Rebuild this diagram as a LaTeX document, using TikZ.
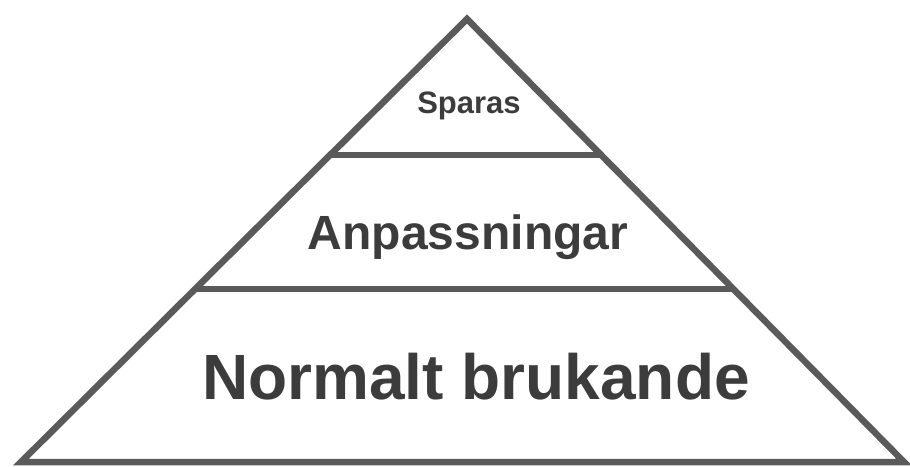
\documentclass[tikz,border=0pt]{standalone}
\usepackage{fontspec}
\setmainfont{Liberation Sans}
\usetikzlibrary{calc}
\definecolor{edgegray}{HTML}{5A5A5A}
\definecolor{textgray}{HTML}{3C3C3C}
\tikzset{
  edge/.style={draw=edgegray, line width=6.5pt, line join=miter},
  tier/.style={draw=edgegray, line width=6pt},
  lbl/.style={text=textgray, font=\bfseries, anchor=base, inner sep=0pt}
}
\begin{document}
\begin{tikzpicture}[x=1pt,y=-1pt]
\useasboundingbox (0,0) rectangle (910,466);
\coordinate (A) at (467,19);
\coordinate (L) at (21,462);
\coordinate (R) at (904,462);
\draw[edge] (A) -- (L) -- (R) -- cycle;
\coordinate (t1l) at ($(A)!0.307!(L)$);
\coordinate (t1r) at ($(A)!0.307!(R)$);
\coordinate (t2l) at ($(A)!0.61!(L)$);
\coordinate (t2r) at ($(A)!0.61!(R)$);
\draw[tier] (t1l) -- (t1r);
\draw[tier] (t2l) -- (t2r);
\node[lbl, font=\bfseries\fontsize{31}{31}\selectfont] (top) at (469,113) {Sparas};
\node[lbl, font=\bfseries\fontsize{48}{48}\selectfont] (mid) at (468,249) {Anpassningar};
\node[lbl, font=\bfseries\fontsize{64}{64}\selectfont] (bot) at (476,399) {Normalt brukande};
\end{tikzpicture}
\end{document}
